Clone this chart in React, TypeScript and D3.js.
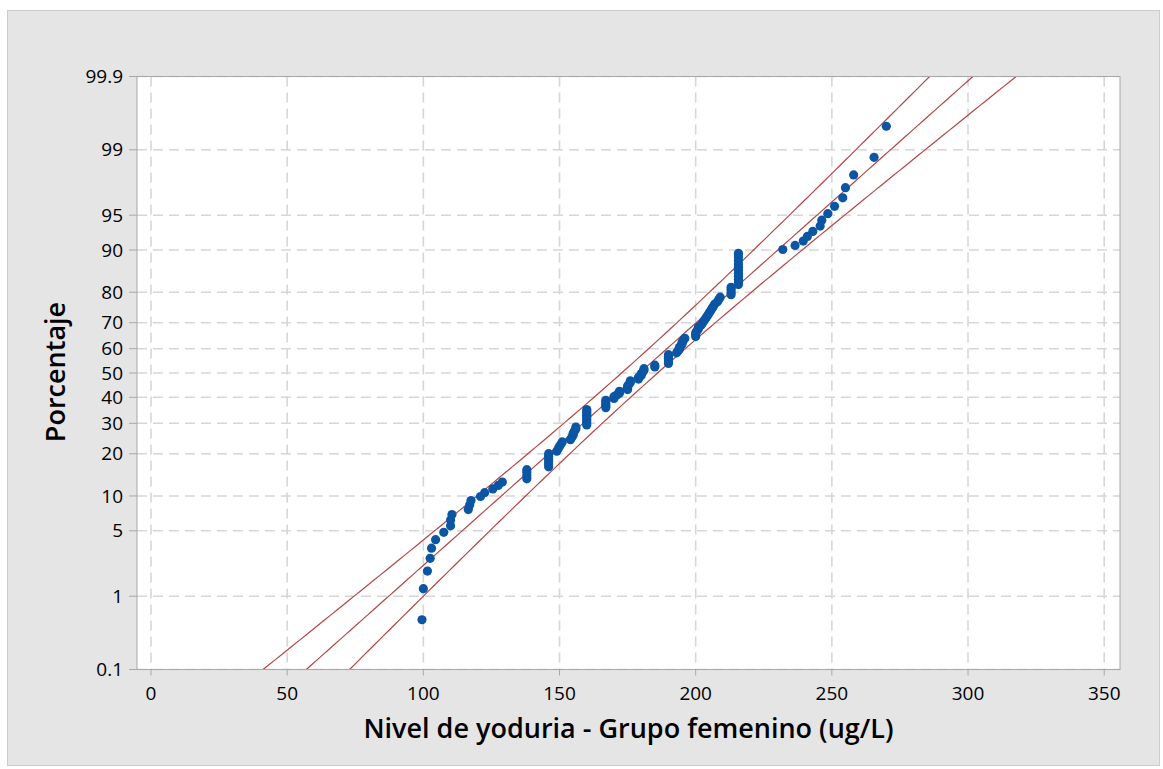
import React from "react";
import * as d3 from "d3";

// ---------- data ----------
const xTicks = [0, 50, 100, 150, 200, 250, 300, 350];
const yTicks = [0.1, 1, 5, 10, 20, 30, 40, 50, 60, 70, 80, 90, 95, 99, 99.9];

// sorted observations, iodine level (ug/L)
const values = [
  99.5, 100, 101.5, 102.5, 103, 104.5, 107.5, 110, 110, 110.5,
  116.5, 117, 117.5, 121, 122.5, 125.5, 127.5, 129,
  138, 138, 138, 138,
  146, 146, 146, 146, 146, 146,
  149, 149.5, 150, 150.5, 151,
  154, 154.5, 155, 155, 155.5, 156, 156,
  160, 160, 160, 160, 160, 160, 160, 160, 160,
  167, 167, 167, 167, 167,
  170, 170, 171, 172, 172,
  175, 175, 175, 175.5, 176, 176,
  179, 179, 180, 180, 180.5, 181, 181,
  185, 185,
  190, 190, 190, 190, 190, 190,
  193, 193.5, 194, 194, 194.5, 195, 195, 195.5, 196,
  200, 200, 200, 200.5, 201, 201,
  202, 202.5, 203, 203.5, 204, 204.5,
  205, 205.5, 206, 206.5, 207, 208, 208.5, 209,
  213, 213, 213, 213,
  215.7, 215.7, 215.7, 215.7, 215.7, 215.7, 215.7, 215.7, 215.7, 215.7, 215.7,
  232, 236.5, 239.5, 241, 243, 245.7, 246.3, 248.5, 251, 254, 255, 258, 265.5, 270,
];

// fitted normal distribution
const MU = 179.4;
const SIGMA = 39.6;
const CONF_Z = 1.96;

const xTitle = "Nivel de yoduria - Grupo femenino (ug/L)";
const yTitle = "Porcentaje";

// ---------- helpers ----------
function qnorm(p: number): number {
  const a = [-3.969683028665376e1, 2.209460984245205e2, -2.759285104469687e2, 1.38357751867269e2, -3.066479806614716e1, 2.506628277459239];
  const b = [-5.447609879822406e1, 1.615858368580409e2, -1.556989798598866e2, 6.680131188771972e1, -1.328068155288572e1];
  const c = [-7.784894002430293e-3, -3.223964580411365e-1, -2.400758277161838, -2.549732539343734, 4.374664141464968, 2.938163982698783];
  const d = [7.784695709041462e-3, 3.224671290700398e-1, 2.445134137142996, 3.754408661907416];
  const pl = 0.02425;
  if (p < pl) {
    const q = Math.sqrt(-2 * Math.log(p));
    return (((((c[0] * q + c[1]) * q + c[2]) * q + c[3]) * q + c[4]) * q + c[5]) / ((((d[0] * q + d[1]) * q + d[2]) * q + d[3]) * q + 1);
  }
  if (p <= 1 - pl) {
    const q = p - 0.5, r = q * q;
    return ((((((a[0] * r + a[1]) * r + a[2]) * r + a[3]) * r + a[4]) * r + a[5]) * q) / (((((b[0] * r + b[1]) * r + b[2]) * r + b[3]) * r + b[4]) * r + 1);
  }
  const q = Math.sqrt(-2 * Math.log(1 - p));
  return -(((((c[0] * q + c[1]) * q + c[2]) * q + c[3]) * q + c[4]) * q + c[5]) / ((((d[0] * q + d[1]) * q + d[2]) * q + d[3]) * q + 1);
}

const W = 1163, H = 769;
const L = 137, R = 1120, T = 76.5, B = 669.5;
const FONT = "'Open Sans', 'Noto Sans', sans-serif";

export default function App() {
  const n = values.length;
  const x = d3.scaleLinear().domain([-5.14, 355.8]).range([L, R]);
  const zLo = qnorm(0.001), zHi = qnorm(0.999);
  const y = d3.scaleLinear().domain([zLo, zHi]).range([B, T]);

  const pts = values.map((v, i) => ({ v, z: qnorm((i + 1 - 0.3) / (n + 0.4)) }));

  const zs = d3.range(0, 121).map((k) => zLo + ((zHi - zLo) * k) / 120);
  const half = (z: number) => CONF_Z * SIGMA * Math.sqrt(1 / n + (z * z) / (2 * n));
  const line = d3.line<[number, number]>().x((d) => x(d[0])).y((d) => y(d[1]));
  const fitPath = line(zs.map((z) => [MU + z * SIGMA, z])) || "";
  const loPath = line(zs.map((z) => [MU + z * SIGMA - half(z), z])) || "";
  const hiPath = line(zs.map((z) => [MU + z * SIGMA + half(z), z])) || "";

  const gridColor = "#d6d6d6";
  const axisColor = "#a8a8a8";
  const red = "#b54646";

  return (
    <svg width={W} height={H} style={{ position: "absolute", left: 0, top: 0, display: "block" }} fontFamily={FONT}>
      <rect x={0} y={0} width={W} height={H} fill="#ffffff" />
      <rect x={7.5} y={10.5} width={1152} height={755} fill="#e5e5e5" stroke="#cccccc" strokeWidth={1} />
      <defs>
        <clipPath id="plotClip">
          <rect x={L} y={T} width={R - L} height={B - T} />
        </clipPath>
      </defs>
      <rect x={L} y={T} width={R - L} height={B - T} fill="#ffffff" />

      {/* grid */}
      <g stroke={gridColor} strokeWidth={1.6} strokeDasharray="10,6" fill="none">
        {xTicks.map((t) => (
          <line key={"gx" + t} x1={x(t)} x2={x(t)} y1={T} y2={B} />
        ))}
        {yTicks.map((t) => (
          <line key={"gy" + t} x1={L} x2={R} y1={y(qnorm(t / 100))} y2={y(qnorm(t / 100))} />
        ))}
      </g>

      {/* fitted line and confidence bands */}
      <g clipPath="url(#plotClip)" fill="none">
        <path d={loPath} stroke={red} strokeWidth={1.2} />
        <path d={fitPath} stroke={red} strokeWidth={1.2} />
        <path d={hiPath} stroke={red} strokeWidth={1.2} />
      </g>

      {/* points */}
      <g fill="#0a56a5">
        {pts.map((p, i) => (
          <circle key={i} cx={x(p.v)} cy={y(p.z)} r={4.6} />
        ))}
      </g>

      {/* frame */}
      <rect x={L} y={T} width={R - L} height={B - T} fill="none" stroke={axisColor} strokeWidth={1} />

      {/* x axis */}
      <g>
        {xTicks.map((t) => (
          <g key={"xt" + t}>
            <line x1={x(t)} x2={x(t)} y1={B} y2={B + 6} stroke={axisColor} />
            <text x={x(t)} y={700} textAnchor="middle" fontSize={19} fill="#000">
              {t}
            </text>
          </g>
        ))}
      </g>
      {/* y axis */}
      <g>
        {yTicks.map((t) => (
          <g key={"yt" + t}>
            <line x1={L - 8} x2={L} y1={y(qnorm(t / 100))} y2={y(qnorm(t / 100))} stroke={axisColor} />
            <text x={123} y={y(qnorm(t / 100))} dy="0.35em" textAnchor="end" fontSize={19} fill="#000">
              {String(t)}
            </text>
          </g>
        ))}
      </g>

      <text x={(L + R) / 2} y={738} textAnchor="middle" fontSize={27} fontWeight={600} fill="#000">
        {xTitle}
      </text>
      <text transform={`translate(65, 372) rotate(-90)`} textAnchor="middle" fontSize={27} fontWeight={600} fill="#000">
        {yTitle}
      </text>
    </svg>
  );
}
